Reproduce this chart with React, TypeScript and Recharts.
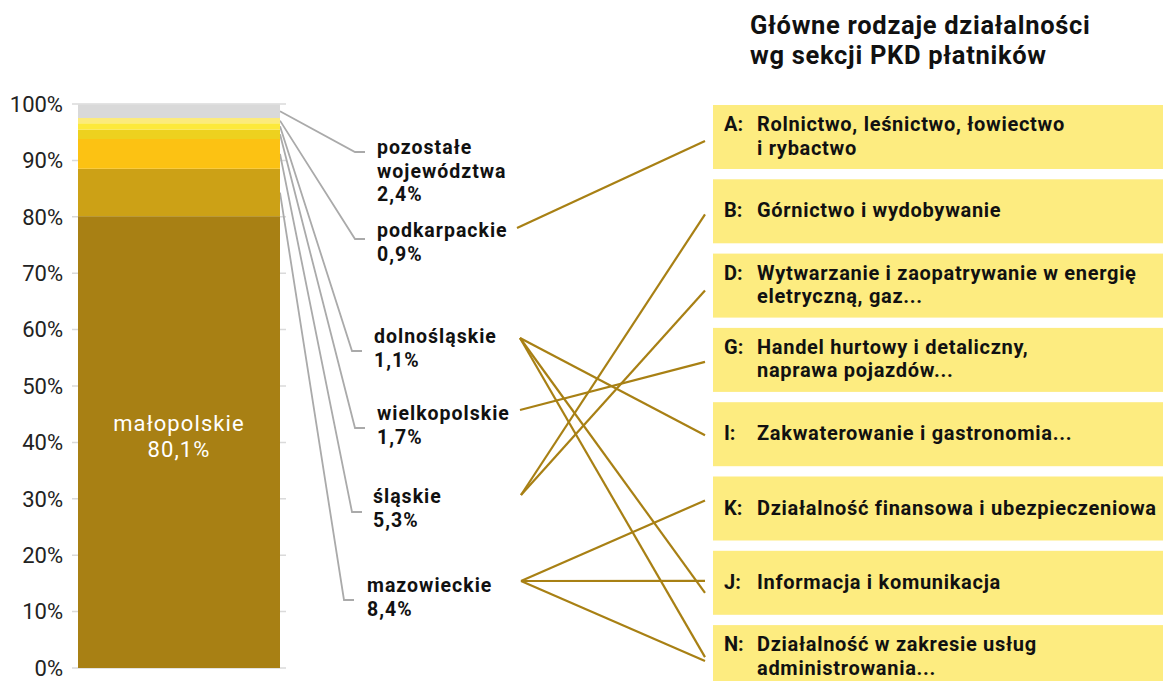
import { BarChart, Bar, XAxis, YAxis, CartesianGrid, Customized } from 'recharts';

// województwa (stacked from the bottom up)
const regionKeys = ['malopolskie', 'mazowieckie', 'slaskie', 'wielkopolskie', 'dolnoslaskie', 'podkarpackie', 'pozostale'];
const regionNames = ['małopolskie', 'mazowieckie', 'śląskie', 'wielkopolskie', 'dolnośląskie', 'podkarpackie', 'pozostałe województwa'];
const regionShares = [80.1, 8.4, 5.3, 1.7, 1.1, 0.9, 2.4];
const regionColors = ['#A88014', '#CCA116', '#FCC213', '#EDD11F', '#FDE93A', '#FCEB7B', '#D9D9D9'];

const yTicks = [0, 10, 20, 30, 40, 50, 60, 70, 80, 90, 100];

// sekcje PKD
const sectionCodes = ['A', 'B', 'D', 'G', 'I', 'K', 'J', 'N'];
const sectionNames = [
    ['Rolnictwo, leśnictwo, łowiectwo', 'i rybactwo'],
    ['Górnictwo i wydobywanie'],
    ['Wytwarzanie i zaopatrywanie w energię', 'eletryczną, gaz...'],
    ['Handel hurtowy i detaliczny,', 'naprawa pojazdów...'],
    ['Zakwaterowanie i gastronomia...'],
    ['Działalność finansowa i ubezpieczeniowa'],
    ['Informacja i komunikacja'],
    ['Działalność w zakresie usług', 'administrowania...'],
];

// which region points to which section (+ where on the box edge the line lands)
const links: [string, string, number][] = [
    ['podkarpackie', 'A', 36],
    ['dolnoslaskie', 'I', 33],
    ['dolnoslaskie', 'J', 42],
    ['dolnoslaskie', 'N', 32],
    ['wielkopolskie', 'G', 34],
    ['slaskie', 'B', 35],
    ['slaskie', 'D', 37],
    ['mazowieckie', 'K', 24],
    ['mazowieckie', 'J', 30],
    ['mazowieckie', 'N', 36],
];

const W = 1163;
const H = 681;
const PLOT_TOP = 104;
const PLOT_BOTTOM = 668;
const PLOT_LEFT = 72;
const PLOT_RIGHT = 286;
const BAR_W = 202;
const FONT = 'Roboto, "Noto Sans", sans-serif';
const GOLD = '#A88014';

const row: Record<string, number | string> = { name: 'platnicy' };
regionKeys.forEach((k, i) => (row[k] = regionShares[i]));
const data = [row];

const fmt = (v: number) => `${v.toFixed(1).replace('.', ',')}%`;
const yOf = (v: number) => PLOT_TOP + (1 - v / 100) * (PLOT_BOTTOM - PLOT_TOP);

// label layout for the small regions (text x, first baseline, elbow of the grey line, gold anchor)
const labelLayout: Record<string, { x: number; y: number; ex: number; ey: number; ax?: number; ay?: number }> = {
    pozostale: { x: 377, y: 154, ex: 355, ey: 152 },
    podkarpackie: { x: 377, y: 237, ex: 355, ey: 239, ax: 517, ay: 228 },
    dolnoslaskie: { x: 374, y: 343, ex: 352, ey: 351, ax: 520, ay: 338 },
    wielkopolskie: { x: 377, y: 420, ex: 355, ey: 428, ax: 520, ay: 410 },
    slaskie: { x: 373, y: 503, ex: 352, ey: 512, ax: 521, ay: 495 },
    mazowieckie: { x: 367, y: 592, ex: 344, ey: 600, ax: 521, ay: 581 },
};

const BOX_X = 713;
const boxTop = (i: number) => 105 + i * 74.3;

// one <text> per block, lines as tspans
const Multi = ({ x, y, lines, step, ...rest }: any) => (
    <text x={x} y={y} {...rest}>
        {lines.map((t: string, j: number) => (
            <tspan key={j} x={x} dy={j === 0 ? 0 : step}>
                {t}
            </tspan>
        ))}
    </text>
);

const Annotations = () => {
    const barRight = (PLOT_LEFT + PLOT_RIGHT) / 2 + BAR_W / 2;
    let cum = 0;
    const mids = regionShares.map((s) => {
        const m = cum + s / 2;
        cum += s;
        return m;
    });

    return (
        <g fontFamily={FONT}>
            <Multi
                x={750}
                y={34}
                step={30}
                lines={['Główne rodzaje działalności', 'wg sekcji PKD płatników']}
                fontSize={25.5}
                fontWeight={700}
                letterSpacing={0.7}
                fill="#111"
            />

            {regionKeys.map((k, i) => {
                const l = labelLayout[k];
                if (!l) return null;
                const lines = k === 'pozostale' ? ['pozostałe', 'województwa'] : [regionNames[i]];
                const sy = yOf(mids[i]);
                return (
                    <g key={k}>
                        <polyline
                            points={`${barRight},${sy} ${l.ex},${l.ey} ${l.ex + 10},${l.ey}`}
                            fill="none"
                            stroke="#AAAAAA"
                            strokeWidth={1.8}
                        />
                        <Multi
                            x={l.x}
                            y={l.y}
                            step={23.5}
                            lines={[...lines, fmt(regionShares[i])]}
                            fontSize={19.5}
                            fontWeight={700}
                            letterSpacing={1}
                            fill="#111"
                        />
                    </g>
                );
            })}

            {sectionCodes.map((c, i) => {
                const top = boxTop(i);
                const lines = sectionNames[i];
                const first = lines.length > 1 ? top + 26 : top + 38;
                return (
                    <g key={c}>
                        <rect x={BOX_X} y={top} width={W - BOX_X} height={64} fill="#FDEC80" />
                        <text x={724} y={first} fontSize={20} fontWeight={700} fill="#111">{`${c}:`}</text>
                        <Multi
                            x={757}
                            y={first}
                            step={23.5}
                            lines={lines}
                            fontSize={20}
                            fontWeight={700}
                            letterSpacing={0.7}
                            fill="#111"
                        />
                    </g>
                );
            })}

            {links.map(([from, to, dy], i) => {
                const l = labelLayout[from];
                const top = boxTop(sectionCodes.indexOf(to));
                return (
                    <line key={i} x1={l.ax} y1={l.ay} x2={705} y2={top + dy} stroke={GOLD} strokeWidth={2.2} />
                );
            })}
        </g>
    );
};

const InsideLabel = (props: any) => {
    const { x, y, width, height, index } = props;
    if (index !== 0) return null;
    const cx = x + width / 2;
    const cy = y + height / 2;
    return (
        <Multi
            x={cx}
            y={cy - 11}
            step={26}
            lines={[regionNames[0], fmt(regionShares[0])]}
            fontFamily={FONT}
            fontSize={22}
            fill="#FFFFFF"
            textAnchor="middle"
            letterSpacing={1.1}
        />
    );
};

export default function App() {
    return (
        <div style={{ position: 'absolute', left: 0, top: 0, width: W, height: H, background: '#fff' }}>
            <BarChart
                width={W}
                height={H}
                data={data}
                margin={{ top: PLOT_TOP, bottom: H - PLOT_BOTTOM, left: 8, right: W - PLOT_RIGHT }}
            >
                <CartesianGrid vertical={false} stroke="#DADADA" strokeWidth={1.5} />
                <XAxis dataKey="name" hide />
                <YAxis
                    width={64}
                    domain={[0, 100]}
                    ticks={yTicks}
                    tickFormatter={(v) => `${v}%`}
                    tickLine={false}
                    axisLine={false}
                    tickSize={0}
                    tickMargin={9}
                    tick={{ fontSize: 22, fill: '#222', fontFamily: FONT }}
                    interval={0}
                />
                {regionKeys.map((k, i) => (
                    <Bar
                        key={k}
                        dataKey={k}
                        stackId="a"
                        fill={regionColors[i]}
                        barSize={BAR_W}
                        isAnimationActive={false}
                        label={i === 0 ? <InsideLabel /> : undefined}
                    />
                ))}
                <Customized component={<Annotations />} />
            </BarChart>
        </div>
    );
}
